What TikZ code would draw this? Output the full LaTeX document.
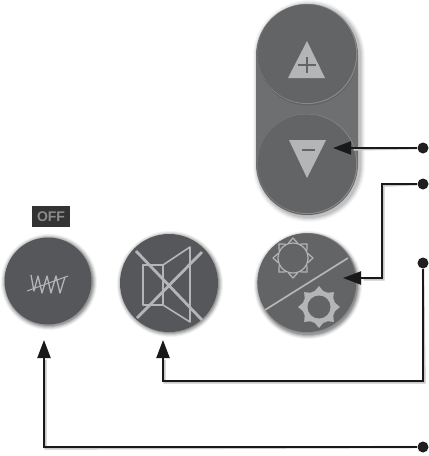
\documentclass[tikz,border=0pt]{standalone}
\usepackage{fontspec}
\setmainfont{Liberation Sans}
\usetikzlibrary{arrows.meta}
\definecolor{btn}{HTML}{636466}
\definecolor{btndark}{HTML}{56575A}
\definecolor{panelc}{HTML}{6E6F71}
\definecolor{icon}{HTML}{B4B5B7}
\definecolor{edgeLight}{HTML}{8A8B8D}
\tikzset{
 x=1pt,y=-1pt,
 wire/.style={line width=2.1pt,draw=black!90,line join=miter},
 wireshadow/.style={line width=2.4pt,draw=black!22,line join=miter},
 arrowwire/.style={wire,-{Triangle[length=18pt,width=13pt]}},
 dotnode/.style={circle,fill=black!88,inner sep=0pt,minimum size=11pt},
 iconline/.style={draw=icon,line width=1.6pt,line join=round},
}
\begin{document}
\begin{tikzpicture}
\useasboundingbox (0,0) rectangle (429,456);
\fill[white] (0,0) rectangle (429,456);

% up / down panel
\foreach \r/\o in {5/.03,4/.04,3/.05,2/.06,1/.08}
  \fill[black,opacity=\o] (258-\r,56) arc[start angle=180,end angle=360,radius=51+\r] -- (360+\r,166) arc[start angle=0,end angle=180,radius=51+\r] -- cycle;
\fill[panelc] (256,55) arc[start angle=180,end angle=360,radius=51] -- (358,164) arc[start angle=0,end angle=180,radius=51] -- cycle;
\foreach \cy in {54,164}{
  \fill[black,opacity=.10] (307.5,\cy+1.5) circle[radius=50];
  \fill[edgeLight] (307.3,\cy) circle[radius=50];
  \fill[btn] (306.8,\cy-.3) circle[radius=49.4];
}
\fill[icon] (307,41) -- (325,78) -- (288,78) -- cycle;
\draw[btn,line width=2.2pt] (307,57) -- (307,73) (298,65) -- (316,65);
\fill[icon] (289,140) -- (326,140) -- (307,178) -- cycle;
\draw[btn,line width=2.4pt] (302,150) -- (315,150);

% OFF
\node[fill=black!80,minimum width=38pt,minimum height=21pt,inner sep=0pt,text=gray!90,font=\bfseries\fontsize{14}{14}\selectfont] (off) at (51,216.5) {OFF};

% heater button
\foreach \r/\o in {4/.05,3/.07,2/.09,1/.12,0/.15}
  \fill[black,opacity=\o] (49,282) circle[radius=44+\r];
\fill[btndark] (48,281) circle[radius=43.5];
\draw[draw=icon,line width=1pt,line join=round] (27,291) -- (68,276);
\draw[draw=icon,line width=1.3pt,line join=round] (31,275) -- (34,291) -- (38,276) -- (42,293) -- (47,276) -- (51,293) -- (56,276) -- (60,293) -- (65,277);

% mute button
\foreach \r/\o in {4/.05,3/.07,2/.09,1/.12,0/.15}
  \fill[black,opacity=\o] (170,284) circle[radius=49+\r];
\fill[btndark] (169,283) circle[radius=49];
\draw[iconline] (143,265) rectangle (163,305);
\draw[iconline] (163,265) -- (190,247) -- (190,322) -- (163,305);
\draw[iconline,line width=2.8pt] (136,251) -- (202,320) (137,318) -- (202,252);

% brightness button
\foreach \r/\o in {4/.05,3/.07,2/.09,1/.12,0/.15}
  \fill[black,opacity=\o] (308,285) circle[radius=50+\r];
\fill[edgeLight] (307.6,283) circle[radius=50];
\fill[btn] (306.8,282.7) circle[radius=49.4];
\draw[icon,line width=1.7pt] (265,310) -- (348,258);
% outlined sun
\begin{scope}[shift={(293,258)}]
  \draw[iconline,line width=1.2pt] (0,0) circle[radius=15];
  \foreach \a in {0,45,...,315}
    \draw[iconline,line width=1.2pt] (\a-18:15.5) -- (\a:20) -- (\a+18:15.5);
\end{scope}
% filled sun
\begin{scope}[shift={(319,307)}]
  \foreach \a in {0,45,...,315}
    \fill[icon] (\a-24:15) -- (\a:21) -- (\a+24:15) -- cycle;
  \fill[icon] (0,0) circle[radius=16.5];
  \fill[btn] (0,0) circle[radius=11.5];
\end{scope}

% connector ends
\node[dotnode] (d1) at (423,148) {};
\node[dotnode] (d2) at (423,184) {};
\node[dotnode] (d3) at (423,263) {};
\node[dotnode] (d4) at (423,447) {};
\coordinate (t1) at (333,148);
\coordinate (t2) at (343,278);
\coordinate (t3) at (163,340);
\coordinate (t4) at (44,340);

\begin{scope}[shift={(1.5,1.5)}]
\draw[wireshadow] (d1) -- (352,148);
\draw[wireshadow] (d2) -- (382,184) -- (382,278) -- (362,278);
\draw[wireshadow] (d3) -- (423,381) -- (163,381) -- (163,358);
\draw[wireshadow] (d4) -- (44,447) -- (44,358);
\end{scope}
\draw[arrowwire] (d1) -- (t1);
\draw[arrowwire] (d2) -- (382,184) -- (382,278) -- (t2);
\draw[arrowwire] (d3) -- (423,381) -- (163,381) -- (t3);
\draw[arrowwire] (d4) -- (44,447) -- (t4);
\end{tikzpicture}
\end{document}
